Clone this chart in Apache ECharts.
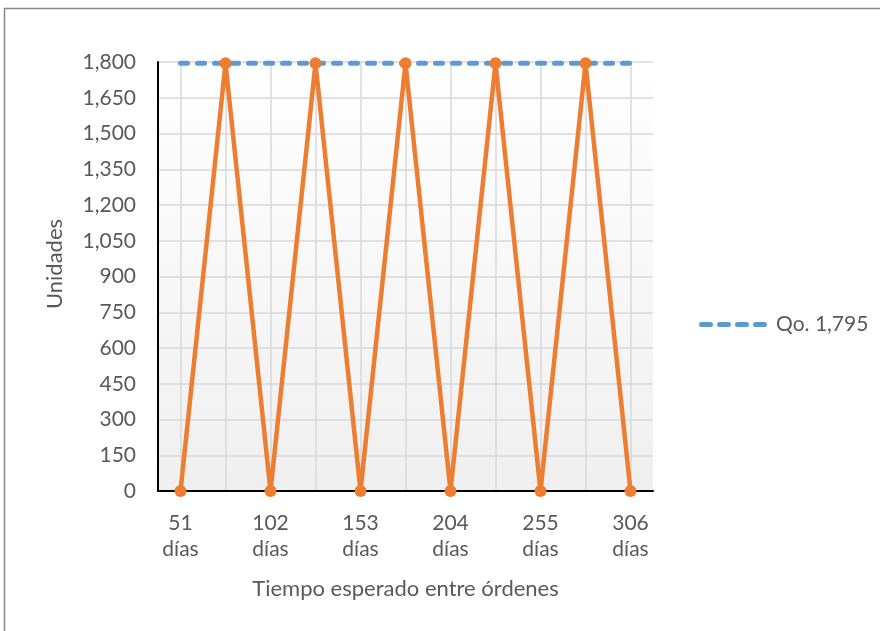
<!DOCTYPE html>
<html>
<head>
<meta charset="utf-8">
<script src="https://cdn.jsdelivr.net/npm/echarts@6/dist/echarts.min.js"></script>
<style>
  html, body { margin: 0; padding: 0; background: #ffffff; }
  #chart { width: 880px; height: 631px; }
</style>
</head>
<body>
<div id="chart"></div>
<script>
// Inventory cycle: stock refills to Qo and drops to zero between orders
const categories = ['51\ndías', '', '102\ndías', '', '153\ndías', '', '204\ndías', '', '255\ndías', '', '306\ndías'];
const inventory = [0, 1795, 0, 1795, 0, 1795, 0, 1795, 0, 1795, 0];
const orderQty = [1795, 1795, 1795, 1795, 1795, 1795, 1795, 1795, 1795, 1795, 1795];
const qoLabel = 'Qo. 1,795';
const yMin = 0, yMax = 1800, yStep = 150;

const font = 'Lato, "Open Sans", sans-serif';
const textColor = '#595959';
const blue = '#5B9BD5';
const orange = '#ED7D31';

// four rounded dashes used as the legend marker
function dash(x) {
  return 'M' + (x + 2.5) + ',0h9a2.5,2.5 0 0 1 0,5h-9a2.5,2.5 0 0 1 0,-5z';
}
const dashIcon = 'path://' + [0, 18, 36, 54].map(dash).join('');

const chart = echarts.init(document.getElementById('chart'));
chart.setOption({
  animation: false,
  textStyle: { fontFamily: font },
  graphic: [
    {
      type: 'rect',
      shape: { x: 4.5, y: 8.5, width: 900, height: 640 },
      style: { fill: 'none', stroke: '#878787', lineWidth: 1.5 },
      silent: true
    },
    {
      type: 'text',
      x: 55, y: 264,
      rotation: Math.PI / 2,
      style: {
        text: 'Unidades', fill: textColor, font: '22px ' + font,
        align: 'center', verticalAlign: 'middle'
      }
    }
  ],
  legend: {
    data: [{ name: qoLabel, icon: dashIcon }],
    orient: 'vertical',
    left: 694, top: 309,
    itemWidth: 68, itemHeight: 5, itemGap: 8,
    itemStyle: { color: blue },
    textStyle: { color: textColor, fontSize: 21, fontFamily: font, padding: [0, 0, 0, 4] }
  },
  grid: {
    left: 158, right: 227, top: 62, bottom: 140,
    show: true, borderWidth: 0,
    backgroundColor: {
      type: 'linear', x: 0, y: 0, x2: 0, y2: 1,
      colorStops: [{ offset: 0, color: '#ffffff' }, { offset: 1, color: '#efefef' }]
    }
  },
  xAxis: {
    type: 'category',
    data: categories,
    boundaryGap: true,
    name: 'Tiempo esperado entre órdenes',
    nameLocation: 'middle',
    nameGap: 87,
    nameTextStyle: { color: textColor, fontSize: 22, fontFamily: font },
    axisLine: { lineStyle: { color: '#000000', width: 2 } },
    axisTick: { show: false, alignWithLabel: true },
    axisLabel: {
      interval: 0, color: textColor, fontSize: 21, lineHeight: 26,
      margin: 19, fontFamily: font
    },
    splitLine: { show: true, alignWithLabel: true, lineStyle: { color: '#d9d9d9', width: 1.5 } }
  },
  yAxis: {
    type: 'value',
    min: yMin, max: yMax, interval: yStep,
    axisLine: { show: true, lineStyle: { color: '#000000', width: 2 } },
    axisTick: { show: false },
    axisLabel: {
      color: textColor, fontSize: 21, margin: 22, fontFamily: font,
      formatter: v => v.toLocaleString('en-US')
    },
    splitLine: { lineStyle: { color: '#d9d9d9', width: 1.5 } }
  },
  series: [
    {
      name: 'Inventario',
      type: 'line',
      data: inventory,
      symbol: 'circle', symbolSize: 12,
      lineStyle: { color: orange, width: 4.5 },
      itemStyle: { color: orange },
      z: 3
    },
    {
      name: qoLabel,
      type: 'line',
      data: orderQty,
      symbol: 'none',
      lineStyle: { color: blue, width: 5, type: [7, 10], cap: 'round' },
      itemStyle: { color: blue },
      z: 2
    }
  ]
});
</script>
</body>
</html>
